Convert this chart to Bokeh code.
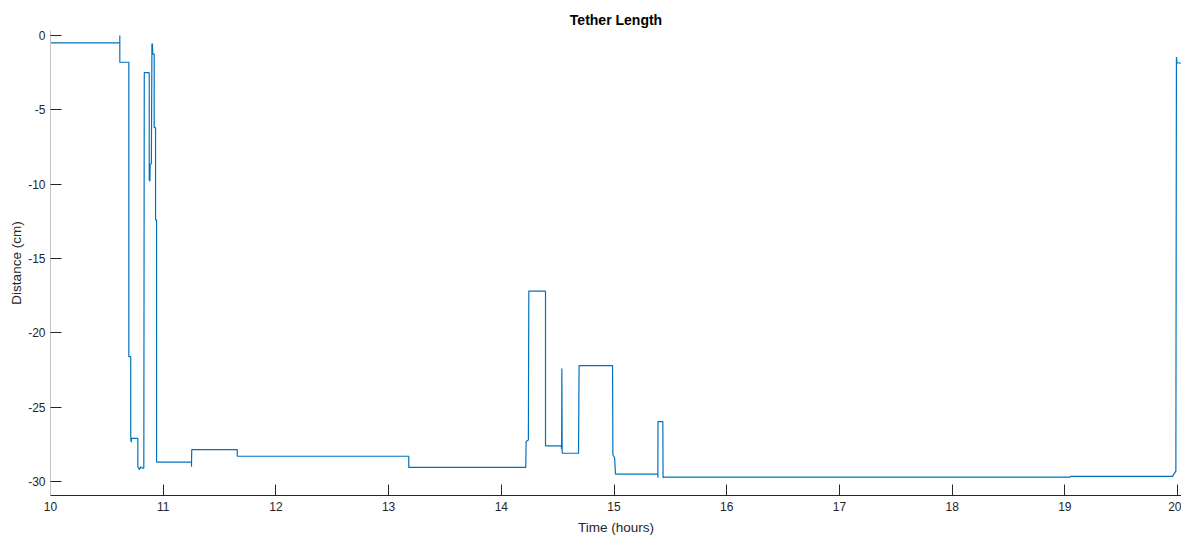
from bokeh.plotting import figure
from bokeh.models import Range1d, FixedTicker
from bokeh.embed import file_html
from bokeh.resources import INLINE

# Step-wise tether length trace (vertices)
time_hours = [
    10.0, 10.615, 10.615, 10.615, 10.695, 10.695, 10.712, 10.712, 10.716, 10.719,
    10.775, 10.775, 10.790, 10.800, 10.814, 10.828, 10.832, 10.876, 10.876, 10.882,
    10.884, 10.895, 10.900, 10.905, 10.907, 10.920, 10.920, 10.932, 10.932, 10.941,
    10.941, 11.251, 11.251, 11.253, 11.657, 11.657, 13.179, 13.179, 14.217, 14.220,
    14.240, 14.244, 14.392, 14.392, 14.531, 14.535, 14.537, 14.540, 14.685, 14.690,
    14.987, 14.990, 15.005, 15.013, 15.389, 15.389, 15.390, 15.433, 15.435, 15.440,
    19.050, 19.050, 19.955, 19.985, 19.990, 19.995, 20.035,
]
distance_cm = [
    -0.5, -0.5, 0.0, -1.8, -1.8, -21.6, -21.6, -27.1, -27.35, -27.1,
    -27.1, -29.0, -29.2, -29.0, -29.1, -29.1, -2.5, -2.5, -9.7, -9.8,
    -8.7, -8.6, -0.55, -0.6, -1.25, -1.25, -6.2, -6.2, -12.4, -12.4,
    -28.7, -28.7, -29.0, -27.85, -27.85, -28.3, -28.3, -29.05, -29.05, -27.3,
    -27.2, -17.2, -17.2, -27.6, -27.6, -27.8, -22.4, -28.1, -28.1, -22.2,
    -22.2, -28.2, -28.4, -29.5, -29.5, -29.75, -25.97, -25.97, -29.75, -29.7,
    -29.7, -29.65, -29.65, -29.3, -1.45, -1.85, -1.85,
]
x_ticks = [10, 11, 12, 13, 14, 15, 16, 17, 18, 19, 20]
y_ticks = [0, -5, -10, -15, -20, -25, -30]

p = figure(
    width=1181, height=537,
    output_backend="svg", toolbar_location=None,
    x_range=Range1d(10, 20.035), y_range=Range1d(-30.94, 0.335),
    title="Tether Length",
    min_border_left=50, min_border_right=0, min_border_top=30, min_border_bottom=40,
)
p.line(time_hours, distance_cm, line_color="#0072BD", line_width=1.2)

p.title.align = "center"
p.title.text_font = "Liberation Sans"
p.title.text_font_size = "14px"
p.title.text_font_style = "bold"
p.title.text_color = "#000000"
p.title.standoff = 5
p.title.offset = 0

p.outline_line_color = None
p.xgrid.visible = False
p.ygrid.visible = False
p.background_fill_color = "white"
p.border_fill_color = "white"

p.xaxis.ticker = FixedTicker(ticks=x_ticks)
p.yaxis.ticker = FixedTicker(ticks=y_ticks)
p.xaxis.major_label_overrides = {t: str(t) for t in x_ticks}
p.yaxis.major_label_overrides = {t: str(t) for t in y_ticks}
p.xaxis.axis_label = "Time (hours)"
p.yaxis.axis_label = "Distance (cm)"

for ax in (p.xaxis, p.yaxis):
    ax.major_tick_in = 11
    ax.major_tick_out = 0
    ax.minor_tick_in = 0
    ax.minor_tick_out = 0
    ax.major_tick_line_color = "#262626"
    ax.major_label_text_font = "Liberation Sans"
    ax.major_label_text_font_size = "12px"
    ax.major_label_text_color = "#262626"
    ax.axis_label_text_font = "Liberation Sans"
    ax.axis_label_text_font_size = "13.5px"
    ax.axis_label_text_font_style = "normal"
    ax.axis_label_text_color = "#262626"

p.xaxis.axis_line_color = "#262626"
p.yaxis.axis_line_color = "#c4c4c4"
p.xaxis.major_label_standoff = 6
p.xaxis.axis_label_standoff = 6
p.yaxis.major_label_standoff = 5
p.yaxis.axis_label_standoff = 1

open("out.html", "w").write(file_html(p, INLINE))
